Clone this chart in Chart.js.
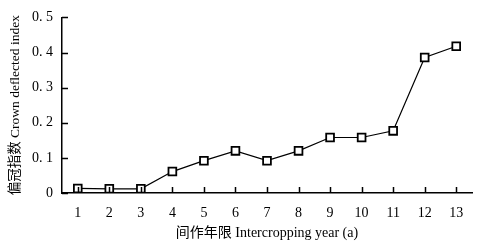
<!DOCTYPE html>
<html>
<head>
<meta charset="utf-8">
<script src="https://cdn.jsdelivr.net/npm/chart.js@4"></script>
<style>
  html, body { margin: 0; padding: 0; background: #fff; }
  #wrap { width: 497px; height: 249px; }
</style>
</head>
<body>
<div id="wrap"><canvas id="chart"></canvas></div>
<script>
// data
const years = ['1', '2', '3', '4', '5', '6', '7', '8', '9', '10', '11', '12', '13'];
const crownIndex = [0.013, 0.012, 0.012, 0.061, 0.092, 0.12, 0.092, 0.12, 0.158, 0.158, 0.177, 0.386, 0.418];
const yTicks = [0, 0.1, 0.2, 0.3, 0.4, 0.5];

const serif = '"Liberation Serif", "DejaVu Serif", "Noto Sans CJK SC", serif';

// small inward tick marks on both axes
const inwardTicks = {
    id: 'inwardTicks',
    afterDraw(chart) {
        const ctx = chart.ctx;
        const x = chart.scales.x, y = chart.scales.y;
        const area = chart.chartArea;
        ctx.save();
        ctx.strokeStyle = '#000';
        ctx.lineWidth = 1.5;
        ctx.beginPath();
        years.forEach((v, i) => {
            const px = Math.round(x.getPixelForValue(i)) + 0.5;
            ctx.moveTo(px, area.bottom);
            ctx.lineTo(px, area.bottom - 6);
        });
        yTicks.forEach(v => {
            const py = Math.round(y.getPixelForValue(v)) + 0.5;
            ctx.moveTo(area.left, py);
            ctx.lineTo(area.left + 6, py);
        });
        ctx.stroke();
        ctx.restore();
    }
};

document.addEventListener('DOMContentLoaded', function () {
    new Chart(document.getElementById('chart'), {
        type: 'line',
        data: {
            labels: years,
            datasets: [{
                data: crownIndex,
                borderColor: '#000',
                borderWidth: 1.2,
                pointStyle: 'rect',
                pointRadius: 5.5,
                pointBorderWidth: 1.8,
                pointBackgroundColor: '#fff',
                pointBorderColor: '#000',
                tension: 0
            }]
        },
        options: {
            responsive: true,
            maintainAspectRatio: false,
            animation: false,
            layout: { padding: { top: 0, right: 25, left: 0, bottom: 7 } },
            plugins: { legend: { display: false }, tooltip: { enabled: false } },
            scales: {
                x: {
                    offset: true,
                    afterFit: s => { s.height = 49; },
                    grid: { display: false, drawTicks: false },
                    border: { display: true, color: '#000', width: 1.5 },
                    ticks: {
                        color: '#000',
                        padding: 12,
                        maxRotation: 0,
                        autoSkip: false,
                        font: { family: serif, size: 14 }
                    },
                    title: {
                        display: true,
                        text: '间作年限 Intercropping year (a)',
                        color: '#000',
                        padding: { top: 4, bottom: 0 },
                        font: { family: serif, size: 14 }
                    }
                },
                y: {
                    min: 0,
                    max: 0.5,
                    afterFit: s => { s.width = 62; },
                    afterBuildTicks: s => { s.ticks = yTicks.map(v => ({ value: v })); },
                    grid: { display: false, drawTicks: false },
                    border: { display: true, color: '#000', width: 1.5 },
                    ticks: {
                        color: '#000',
                        padding: 9,
                        font: { family: serif, size: 14 },
                        callback: v => v === 0 ? '0' : v.toFixed(1).replace('.', '. ')
                    },
                    title: {
                        display: true,
                        text: '偏冠指数 Crown deflected index',
                        color: '#000',
                        padding: { top: 7, bottom: 0 },
                        font: { family: serif, size: 13.5 }
                    }
                }
            }
        },
        plugins: [inwardTicks]
    });
});
</script>
</body>
</html>
